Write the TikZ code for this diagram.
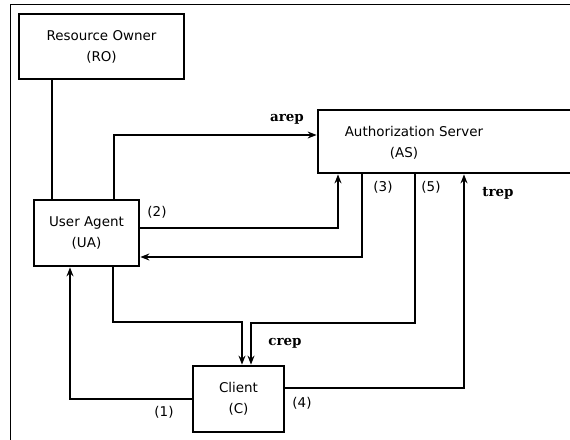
\documentclass[tikz,border=0pt]{standalone}
\usepackage{fontspec}
\setmainfont{DejaVu Sans}
\newfontfamily\lblfont{DejaVu Serif}
\usetikzlibrary{arrows.meta}
\begin{document}
\begin{tikzpicture}[x=1bp,y=-1bp,
  box/.style={draw,line width=2.8bp,inner sep=0pt,align=center,font=\fontsize{13.5}{21}\selectfont},
  arr/.style={line width=1.2bp,-{Stealth[length=9bp,width=7bp,inset=3bp]}},
  ln/.style={line width=1.2bp},
  num/.style={inner sep=0pt,font=\fontsize{13.5}{15}\selectfont},
  msg/.style={inner sep=0pt,font=\lblfont\bfseries\fontsize{13.5}{15}\selectfont}]
\useasboundingbox (0,0) rectangle (570,440);
\clip (0,0) rectangle (570,440);
\draw[line width=0.8bp] (10,4) rectangle (600,470);
% boxes
\node[box,minimum width=165bp,minimum height=65bp] (RO) at (101.5,46.5) {Resource Owner\\(RO)};
\node[box,minimum width=262bp,minimum height=63bp] (AS) at (449,141.5) {};
\node[inner sep=0pt,align=center,font=\fontsize{13.5}{21}\selectfont] (ASt) at (414,143) {Authorization Server\\(AS)\kern20bp};
\node[box,minimum width=105bp,minimum height=66bp] (UA) at (86.5,233) {User Agent\\(UA)};
\node[box,minimum width=91bp,minimum height=66bp] (C) at (238.5,399) {Client\\(C)};
% connectors
\draw[ln] (RO.south -| 52,0) -- (UA.north -| 52,0);
\draw[arr] (UA.north -| 114,0) |- (AS.west |- 0,135);
\draw[arr] (UA.east |- 0,228) -| (AS.south -| 338,0);
\draw[arr] (AS.south -| 362,0) |- (UA.east |- 0,257);
\draw[arr] (UA.south -| 113,0) -- (113,322) -| (C.north -| 242,0);
\draw[arr] (AS.south -| 415,0) -- (415,323) -| (C.north -| 251,0);
\draw[arr] (C.east |- 0,388) -| (AS.south -| 464,0);
\draw[arr] (C.west |- 0,399) -| (UA.south -| 70,0);
% labels
\node[msg] (larep) at (287,119) {arep};
\node[msg] (lcrep) at (285,343) {crep};
\node[msg] (ltrep) at (498,193) {trep};
\node[num] (l1) at (164,412) {(1)};
\node[num] (l2) at (157,212) {(2)};
\node[num] (l3) at (383,187) {(3)};
\node[num] (l4) at (302,403) {(4)};
\node[num] (l5) at (431,187) {(5)};
\end{tikzpicture}
\end{document}
